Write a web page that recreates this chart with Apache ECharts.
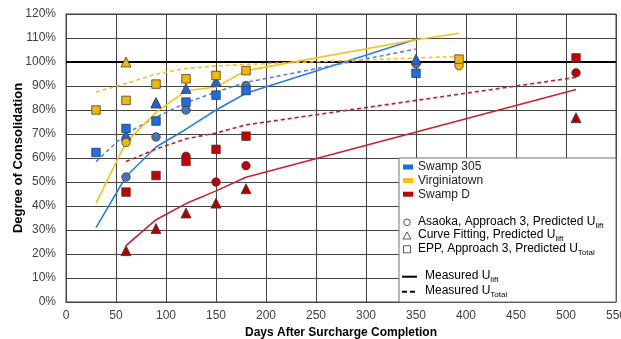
<!DOCTYPE html>
<html>
<head>
<meta charset="utf-8">
<script src="https://cdn.jsdelivr.net/npm/echarts@6/dist/echarts.min.js"></script>
<style>
  html, body { margin: 0; padding: 0; background: #fff; }
  #main { width: 621px; height: 339px; }
</style>
</head>
<body>
<div id="main"></div>
<script>
// measured lines [day, %]
var s305Lift = [[30, 31], [60, 52.3], [90, 64.6], [120, 72], [150, 80], [180, 87], [350, 109.5]];
var s305Total = [[30, 58.5], [60, 70.2], [90, 77], [120, 83], [150, 87.5], [180, 91.5], [350, 105.4]];
var virLift = [[30, 41.2], [60, 66.5], [90, 79], [120, 88], [150, 89.6], [180, 96.4], [350, 109.3], [393, 112]];
var virTotal = [[30, 87.5], [60, 91], [90, 95], [120, 97.3], [150, 98.3], [180, 99], [350, 101.7], [393, 102.3]];
var swdLift = [[60, 23.5], [90, 34.3], [120, 41], [150, 46.3], [180, 52], [510, 88.5]];
var swdTotal = [[60, 58.5], [90, 63.7], [120, 68], [150, 70.4], [180, 73.8], [510, 93.6]];

// predicted points
var s305Asaoka = [[60, 52.1], [90, 68.8], [120, 80], [180, 90.2], [350, 99.3]];
var s305Curve = [[60, 69.5], [90, 83], [120, 89], [150, 92], [350, 101.2]];
var s305Epp = [[30, 62.3], [60, 72.3], [90, 75.4], [120, 83.3], [150, 86.2], [180, 88.1], [350, 95.3]];
var virAsaoka = [[60, 66.5], [393, 98.5]];
var virCurve = [[60, 100], [90, 83]];
var virEpp = [[30, 80], [60, 84], [90, 90.8], [120, 93], [150, 94.4], [180, 96.4], [393, 101.2]];
var swdAsaoka = [[120, 60.7], [150, 50], [180, 56.8], [510, 95.5]];
var swdCurve = [[60, 21.4], [90, 30.6], [120, 37.1], [150, 41.2], [180, 47.2], [510, 76.8]];
var swdEpp = [[60, 45.8], [90, 52.7], [120, 58.6], [150, 63.6], [180, 69.1], [510, 101.7]];

var siteNames = ['Swamp 305', 'Virginiatown', 'Swamp D'];
var siteColors = ['#1a6fe6', '#ffc000', '#c00000'];
var markerNames = ['Asaoka, Approach 3, Predicted U', 'Curve Fitting, Predicted U', 'EPP, Approach 3, Predicted U'];
var markerSubs = ['lift', 'lift', 'Total'];
var lineNames = ['Measured U', 'Measured U'];
var lineSubs = ['lift', 'Total'];

var myChart = echarts.init(document.getElementById('main'), null, { renderer: 'canvas' });

function line(name, data, color, dashed) {
  return {
    name: name, type: 'line', data: data, symbol: 'none', z: 2,
    lineStyle: { color: color, width: 1.6, type: dashed ? [4, 3] : 'solid' },
    silent: true
  };
}
function pts(name, data, color, symbol, size) {
  return {
    name: name, type: 'scatter', data: data, symbol: symbol, symbolSize: size, z: 5,
    itemStyle: { color: color, borderColor: '#3c3c3c', borderWidth: 0.8, opacity: 1 }
  };
}

var series = [
  line('305 lift', s305Lift, '#2a7de8', false),
  line('305 total', s305Total, '#5b82cc', true),
  line('vir lift', virLift, '#f7c11c', false),
  line('vir total', virTotal, '#f7c11c', true),
  line('swd lift', swdLift, '#d0202a', false),
  line('swd total', swdTotal, '#c0202a', true),
  pts('vir curve', virCurve, '#f5b800', 'triangle', 10),
  pts('305 asaoka', s305Asaoka, '#4a72b8', 'circle', 8.5),
  pts('305 curve', s305Curve, '#1e66d4', 'triangle', 10),
  pts('305 epp', s305Epp, '#1a6fe6', 'rect', 8.5),
  pts('vir asaoka', virAsaoka, '#f5b800', 'circle', 8.5),
  pts('vir epp', virEpp, '#f5b800', 'rect', 8.5),
  pts('swd asaoka', swdAsaoka, '#c00000', 'circle', 8.5),
  pts('swd curve', swdCurve, '#b00000', 'triangle', 10),
  pts('swd epp', swdEpp, '#c80000', 'rect', 8.5),
  {
    type: 'line', data: [[0, 100], [550, 100]], symbol: 'none', silent: true, z: 1,
    lineStyle: { color: '#000', width: 1.8 }
  }
];

// legend drawn as graphic
var lx = 399, ly = 158;
var legend = [{
  type: 'rect', shape: { x: lx, y: ly, width: 217, height: 144 },
  style: { fill: '#fff', stroke: '#707070', lineWidth: 1 }, z: 100
}];
var rich = {
  n: { fontSize: 12, fontFamily: 'Liberation Sans, Arial', color: '#222', lineHeight: 14, verticalAlign: 'top' },
  s: { fontSize: 8, fontFamily: 'Liberation Sans, Arial', color: '#222', lineHeight: 6, verticalAlign: 'bottom' }
};
siteNames.forEach(function (nm, i) {
  var cy = 167 + i * 13.6;
  legend.push({ type: 'rect', shape: { x: 403, y: cy - 2.5, width: 10, height: 5 }, style: { fill: siteColors[i] }, z: 101 });
  legend.push({ type: 'text', x: 418, y: cy, style: { text: nm, font: '12px "Liberation Sans", Arial', fill: '#222', verticalAlign: 'middle' }, z: 101 });
});
var symY = [222.3, 236, 249.3];
legend.push({ type: 'circle', shape: { cx: 407, cy: symY[0], r: 3.3 }, style: { fill: 'none', stroke: '#444', lineWidth: 0.9 }, z: 101 });
legend.push({ type: 'polygon', shape: { points: [[407, symY[1] - 4], [411, symY[1] + 3], [403, symY[1] + 3]] }, style: { fill: 'none', stroke: '#444', lineWidth: 0.9 }, z: 101 });
legend.push({ type: 'rect', shape: { x: 403.5, y: symY[2] - 3.5, width: 7, height: 7 }, style: { fill: 'none', stroke: '#444', lineWidth: 0.9 }, z: 101 });
markerNames.forEach(function (nm, i) {
  legend.push({
    type: 'text', x: 418, y: symY[i] - 7,
    style: { text: '{n|' + nm + '}{s|' + markerSubs[i] + '}', rich: rich }, z: 101
  });
});
var lnY = [276.7, 291.7];
legend.push({ type: 'line', shape: { x1: 402, y1: lnY[0], x2: 417, y2: lnY[0] }, style: { stroke: '#000', lineWidth: 2 }, z: 101 });
legend.push({ type: 'line', shape: { x1: 402, y1: lnY[1], x2: 417, y2: lnY[1] }, style: { stroke: '#000', lineWidth: 2, lineDash: [5, 3] }, z: 101 });
lineNames.forEach(function (nm, i) {
  legend.push({
    type: 'text', x: 425, y: lnY[i] - 7,
    style: { text: '{n|' + nm + '}{s|' + lineSubs[i] + '}', rich: rich }, z: 101
  });
});

var option = {
  animation: false,
  backgroundColor: '#fff',
  grid: { left: 66, right: 5, top: 14, bottom: 37, containLabel: false, outerBoundsMode: 'none' },
  xAxis: {
    type: 'value', min: 0, max: 550, interval: 50,
    name: 'Days After Surcharge Completion', nameLocation: 'middle', nameGap: 25, nameMoveOverlap: false,
    nameTextStyle: { fontSize: 12, fontWeight: 'bold', color: '#000', fontFamily: 'Liberation Sans, Arial' },
    axisLine: { show: true, lineStyle: { color: '#444', width: 1 } },
    axisTick: { show: false },
    axisLabel: { fontSize: 12, color: '#404040', margin: 8, fontFamily: 'Liberation Sans, Arial' },
    splitLine: { show: true, lineStyle: { color: '#444', width: 1 } }
  },
  yAxis: {
    type: 'value', min: 0, max: 120, interval: 10,
    name: 'Degree of Consolidation', nameLocation: 'middle', nameGap: 41, nameMoveOverlap: false,
    nameTextStyle: { fontSize: 13, fontWeight: 'bold', color: '#000', fontFamily: 'Liberation Sans, Arial' },
    axisLine: { show: true, lineStyle: { color: '#444', width: 1 } },
    axisTick: { show: false },
    axisLabel: { fontSize: 12, color: '#404040', margin: 10, formatter: '{value}%', fontFamily: 'Liberation Sans, Arial' },
    splitLine: { show: true, lineStyle: { color: '#444', width: 1 } }
  },
  graphic: [
    { type: 'rect', shape: { x: 66, y: 14, width: 550, height: 288 }, style: { fill: 'none', stroke: '#444', lineWidth: 1 }, z: 0, silent: true }
  ].concat(legend),
  series: series
};
myChart.setOption(option);
</script>
</body>
</html>
